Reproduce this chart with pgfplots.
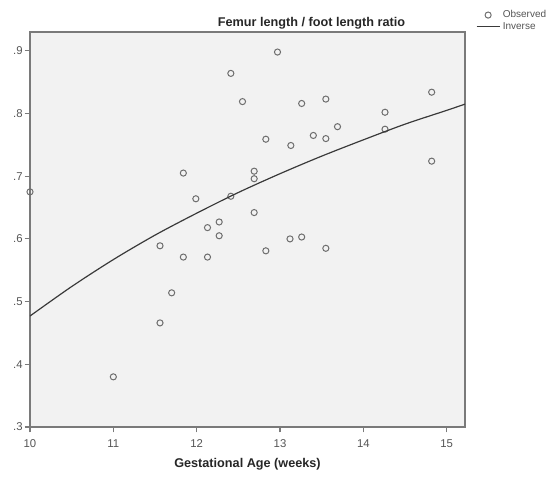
\documentclass[border=0pt]{standalone}
\usepackage{fontspec}
\setmainfont{Liberation Sans}
\usepackage{pgfplots}
\pgfplotsset{compat=1.18}
\definecolor{axgray}{HTML}{7A7A7A}
\definecolor{lblgray}{HTML}{555555}
\definecolor{bggray}{HTML}{F2F2F2}
\definecolor{ptgray}{HTML}{6E6E6E}
\definecolor{fitgray}{HTML}{3A3A3A}
\begin{document}
\begin{tikzpicture}
\begin{axis}[
    scale only axis,
    width=326.25pt, height=296.25pt,
    xmin=10, xmax=15.22, ymin=0.3, ymax=0.93,
    axis background/.style={fill=bggray},
    axis line style={axgray, line width=0.9pt},
    xtick={10,11,12,13,14,15},
    xticklabels={10,11,12,13,14,15},
    ytick={0.3,0.4,0.5,0.6,0.7,0.8,0.9},
    yticklabels={.3,.4,.5,.6,.7,.8,.9},
    tick align=outside, major tick length=4pt,
    tick style={axgray, line width=0.8pt},
    xtick pos=bottom, ytick pos=left,
    ticklabel style={font=\fontsize{8.5}{10}\selectfont, text=lblgray},
    /pgf/number format/assume math mode=true,
    xticklabel style={yshift=-2pt},
    yticklabel style={xshift=2pt},
    xlabel={\textbf{Gestational Age (weeks)}},
    xlabel style={font=\fontsize{9.5}{11}\selectfont, text=black!85, yshift=-1pt},
    clip mode=individual,
    legend style={at={(rel axis cs:1.025,1.062)}, anchor=north west, draw=none, fill=none,
        font=\fontsize{7.5}{8.5}\selectfont, text=lblgray, row sep=-2pt,
        inner sep=0pt, cells={anchor=west}},
]
\addplot[only marks, mark=o, mark size=2.3pt, mark options={ptgray, line width=0.75pt}] coordinates {
    (10.00,0.675) (11.00,0.380) (11.56,0.589) (11.56,0.466) (11.70,0.514)
    (11.84,0.571) (12.13,0.571) (11.84,0.705) (11.99,0.664) (12.13,0.618)
    (12.27,0.627) (12.27,0.605) (12.41,0.864) (12.55,0.819) (12.41,0.668)
    (12.83,0.759) (12.69,0.708) (12.69,0.696) (12.69,0.642) (12.83,0.581)
    (12.97,0.898) (13.26,0.816) (13.55,0.823) (13.13,0.749) (13.40,0.765)
    (13.55,0.760) (13.69,0.779) (14.26,0.802) (14.26,0.775) (14.82,0.834)
    (14.82,0.724) (13.12,0.600) (13.26,0.603) (13.55,0.585)
};
\addlegendentry{Observed}
\addplot[fitgray, line width=0.9pt, no marks, smooth] coordinates {
    (10.0,0.477) (10.5,0.524) (11.0,0.567) (11.5,0.606) (12.0,0.641)
    (12.5,0.674) (13.0,0.704) (13.5,0.732) (14.0,0.758) (14.5,0.783)
    (15.0,0.805) (15.22,0.815)
};
\addlegendentry{Inverse}
\node[anchor=base, font=\fontsize{9.5}{11}\selectfont\bfseries, text=black!85]
    at (rel axis cs:0.647,1) [yshift=4pt] {Femur length / foot length ratio};
\end{axis}
\pgfresetboundingbox
\path[use as bounding box] (-22.5pt,-40.5pt) rectangle (397.5pt,320.25pt);
\end{tikzpicture}
\end{document}
